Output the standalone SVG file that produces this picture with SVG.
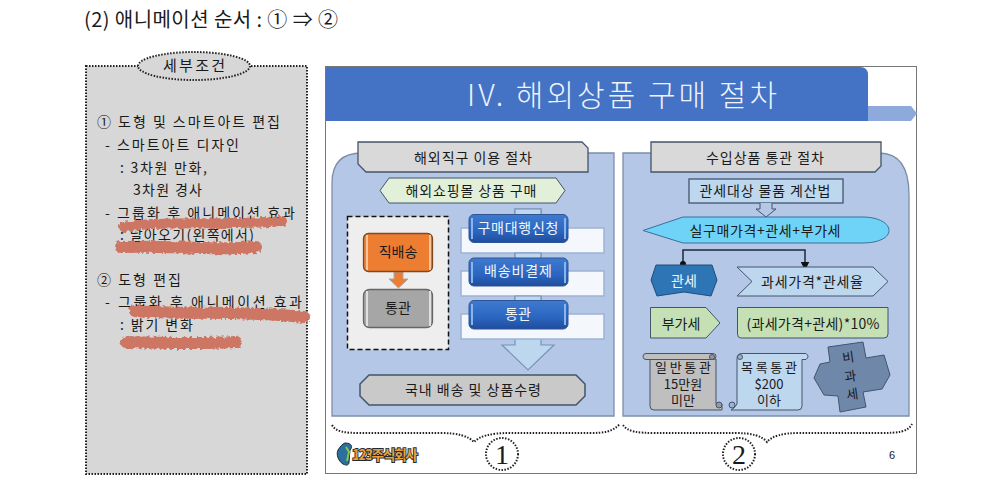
<svg xmlns="http://www.w3.org/2000/svg" width="1000" height="485" viewBox="0 0 1000 485">
<style>
text{font-family:"Noto Sans CJK KR","Noto Sans",sans-serif;fill:#1a1a1a}
.l{font-size:14px}
.c{text-anchor:middle;font-size:14px}
.s{text-anchor:middle;font-size:13px}
.w{fill:#f2f6fb}
.dot{fill:none;stroke:#222;stroke-width:2;stroke-dasharray:1.500 1.500}
.bar{fill:#f4f7fb;stroke:#9db3d6;stroke-width:1.500}
.btn{fill:url(#blue);stroke:#2f5597;stroke-width:1}
.hi{fill:#8db4ea}
.red{fill:none;stroke:#cd7664;stroke-linecap:round;filter:url(#rough)}
.st{stroke:#44546a;stroke-width:1.300}
</style>
<defs>
<filter id="rough" filterUnits="userSpaceOnUse" x="80" y="190" width="250" height="170"><feTurbulence type="fractalNoise" baseFrequency="0.3" numOctaves="2" seed="3" result="n"/><feDisplacementMap in="SourceGraphic" in2="n" scale="5"/></filter>
<linearGradient id="blue" x1="0" y1="0" x2="0" y2="1"><stop offset="0" stop-color="#3f7ad0"/><stop offset="0.6" stop-color="#2a66c0"/><stop offset="1" stop-color="#204c9c"/></linearGradient>
<marker id="ah" markerWidth="6" markerHeight="6" refX="3" refY="3" orient="auto"><path d="M0,0L6,3L0,6Z" fill="#111"/></marker>
<marker id="od" markerWidth="5" markerHeight="5" refX="2.500" refY="2.500"><circle cx="2.500" cy="2.500" r="2" fill="#111"/></marker>
</defs>
<rect width="1000" height="485" fill="#fff"/>
<text x="84" y="27" textLength="254" style="font-size:20px" id="title">(2) 애니메이션 순서 : ① ⇒ ②</text>

<g id="conditions">
<rect x="86" y="66" width="221" height="408" fill="#d7d7d7"/>
<rect x="86" y="66" width="221" height="408" class="dot"/>
<ellipse cx="194" cy="66" rx="56" ry="14" fill="#d7d7d7"/>
<ellipse cx="194" cy="66" rx="56" ry="14" class="dot"/>
<text x="194" y="71" text-anchor="middle" style="font-size:15px" textLength="62">세부조건</text>
<text class="l" x="97" y="127" textLength="183">① 도형 및 스마트아트 편집</text>
<text class="l" x="105" y="150" textLength="134">- 스마트아트 디자인</text>
<text class="l" x="120" y="173" textLength="87">: 3차원 만화,</text>
<text class="l" x="133" y="195" textLength="69">3차원 경사</text>
<text class="l" x="105" y="218" textLength="190">- 그룹화 후 애니메이션 효과</text>
<text class="l" x="120" y="240" textLength="134">: 날아오기(왼쪽에서)</text>
<text class="l" x="97" y="285" textLength="84">② 도형 편집</text>
<text class="l" x="105" y="307" textLength="197">- 그룹화 후 애니메이션 효과</text>
<text class="l" x="120" y="330" textLength="73">: 밝기 변화</text>
<path class="red" stroke-width="10" d="M124,227C160,220 230,226 282,221"/>
<path class="red" stroke-width="12" d="M121,247C170,245 210,251 256,247"/>
<path class="red" stroke-width="12" d="M135,311C180,315 240,310 304,317"/>
<path class="red" stroke-width="12" d="M126,342C160,343 200,344 236,342"/>
</g>

<g id="slide">
<rect x="325.500" y="66.500" width="591" height="407" fill="#fff" stroke="#777"/>
<path d="M868,106H911L917,113.500L911,121H868Z" fill="#8ea9db"/>
<path d="M326,67H860Q868,67 868,75V121H326Z" fill="#4472c4"/>
<text x="622" y="106" text-anchor="middle" style="font-size:30px;font-weight:300;fill:#eef3fb" textLength="310">IV. 해외상품 구매 절차</text>
</g>

<g id="panel-left">
<path d="M332,416V183Q332,153 362,153H614V416Z" fill="#b4c7e7" stroke="#7c8ea8" stroke-width="1.300"/>
<path d="M358,142H582L588,148V172H366L358,164Z" fill="#d9d9d9" stroke="#44546a" stroke-width="1.300"/>
<text class="c" x="473" y="163" textLength="118">해외직구 이용 절차</text>
</g>
<g id="shopping">
<path d="M389,178H556L565,190.500L556,203H389L380,190.500Z" fill="#e2f0d9" stroke="#44546a"/>
<text class="c" x="471" y="196" textLength="131">해외쇼핑몰 상품 구매</text>
</g>
<g id="direct-box">
<rect x="347.500" y="216.500" width="101" height="133" fill="#eeeeee" stroke="#111" stroke-width="1.500" stroke-dasharray="5 3"/>
<path d="M394,272H403V279H408L398.500,288L389,279H394Z" fill="#ed7d31" stroke="#aaa"/>
</g>
<g id="direct">
<rect x="363.500" y="233.500" width="69" height="38" rx="5" fill="#ed7d31" stroke="#7f4a1f" stroke-width="1.300"/>
<rect x="366" y="235" width="2" height="35" fill="#f8c49c"/><rect x="429" y="235" width="2" height="35" fill="#f8c49c"/>
<text class="c" x="398" y="257">직배송</text>
</g>
<g id="customs-gray">
<rect x="363.500" y="289.500" width="69" height="38" rx="6" fill="#a6a6a6" stroke="#666" stroke-width="1.300"/>
<rect x="366" y="291" width="2" height="35" fill="#e0e0e0"/><rect x="429" y="291" width="2" height="35" fill="#e0e0e0"/>
<text class="c" x="398" y="313">통관</text>
</g>
<g id="flow">
<path d="M515,209H541V345H554L528,370L502,345H515Z" fill="#bdd7ee" stroke="#7a92b8" stroke-width="1.200"/>
<rect class="bar" x="461" y="228" width="143" height="25"/>
<rect class="bar" x="461" y="271" width="143" height="25"/>
<rect class="bar" x="461" y="314" width="143" height="25"/>
<path d="M515,209H541V228H515ZM515,253H541V271H515ZM515,296H541V314H515Z" fill="#bdd7ee" stroke="#7a92b8" stroke-width="1.200"/>
</g>
<g id="step1"><rect class="btn" x="469" y="214.500" width="99" height="28" rx="5"/><rect class="hi" x="471" y="218" width="2" height="21"/><rect class="hi" x="564" y="218" width="2" height="21"/><text class="c w" x="518" y="233" textLength="81">구매대행신청</text></g>
<g id="step2"><rect class="btn" x="469" y="258" width="99" height="28" rx="5"/><rect class="hi" x="471" y="262" width="2" height="21"/><rect class="hi" x="564" y="262" width="2" height="21"/><text class="c w" x="518" y="276" textLength="68">배송비결제</text></g>
<g id="step3"><rect class="btn" x="469" y="300.500" width="99" height="28.500" rx="5"/><rect class="hi" x="471" y="304" width="2" height="21"/><rect class="hi" x="564" y="304" width="2" height="21"/><text class="c w" x="518" y="319">통관</text></g>
<g id="delivery">
<path d="M369,375H576L585,384V396L576,405H369L360,396V384Z" fill="#c9c9c9" stroke="#44546a" stroke-width="1.500"/>
<text class="c" x="473" y="395" textLength="136">국내 배송 및 상품수령</text>
</g>

<g id="panel-right">
<path d="M623,153H879Q909,153 909,195V416H623Z" fill="#b4c7e7" stroke="#7c8ea8" stroke-width="1.300"/>
<path d="M651,142H881V166L875,172H651Z" fill="#d9d9d9" stroke="#44546a" stroke-width="1.300"/>
<text class="c" x="765" y="163" textLength="118">수입상품 통관 절차</text>
</g>
<g id="calc">
<rect x="689" y="179" width="154" height="24" fill="#bdd7ee" class="st"/>
<text class="c" x="765" y="196" textLength="131">관세대상 물품 계산법</text>
<path d="M760,203V209H756L766,217L776,209H772V203" fill="#b4c7e7" stroke="#44546a"/>
</g>
<g id="total">
<path d="M643,230.500L683,217H862C880,217 889,224 889,230.500C889,237 880,243 862,243H683Z" fill="#6fd3f7" stroke="#3c6e99"/>
<text class="c" x="765" y="236" textLength="151">실구매가격+관세+부가세</text>
</g>
<g id="connectors">
<path d="M683,264V250H805V266" fill="none" stroke="#1b2a3a" stroke-width="1.500" marker-start="url(#od)" marker-end="url(#ah)"/>
</g>
<g id="tariff">
<path d="M656,265H712L717,280L711,296L684,292L657,296L651,280Z" fill="#2e75b6" stroke="#1f4e79"/>
<text class="c w" x="684" y="286">관세</text>
</g>
<g id="tariff-formula">
<path d="M737,267H873L888,281.500L873,296H737L752,281.500Z" fill="#bdd7ee" stroke="#44546a"/>
<text class="c" x="812" y="287" textLength="102">과세가격*관세율</text>
</g>
<g id="vat">
<path d="M650.500,307.500H706L720,323L706,338H650.500Z" fill="#c5e0b4" stroke="#44546a"/>
<text class="c" x="681" y="329">부가세</text>
</g>
<g id="vat-formula">
<path d="M737.500,307.500H888V334Q888,338 884,338H741Q737.500,338 737.500,334Z" fill="#c5e0b4" stroke="#44546a"/>
<text class="c" x="813" y="329" textLength="133">(과세가격+관세)*10%</text>
</g>
<g id="scroll-general">
<path d="M650,359H716V404H722V410H654Q650,410 650,406Z" fill="#bfbfbf" stroke="#44546a"/>
<rect x="643" y="353.500" width="73" height="6" rx="3" fill="#bfbfbf" stroke="#44546a"/>
<circle cx="712" cy="357" r="2.500" fill="#999" stroke="#44546a"/><circle cx="719" cy="405" r="3" fill="#999" stroke="#44546a"/>
<text class="s" x="683" y="372" textLength="56">일반통관</text>
<text class="s" x="683" y="389">15만원</text>
<text class="s" x="683" y="405">미만</text>
</g>
<g id="scroll-list">
<path d="M737,359Q737,353.500 742,353.500H806Q810,356.500 806,359.500H802V406Q802,410 798,410H731Q735,408 737,404Z" fill="#bdd7ee" stroke="#44546a"/>
<circle cx="740" cy="357" r="2.500" fill="#9db3d6" stroke="#44546a"/><circle cx="732" cy="405" r="3" fill="#9db3d6" stroke="#44546a"/>
<text class="s" x="769" y="372" textLength="56">목록통관</text>
<text class="s" x="769" y="389">$200</text>
<text class="s" x="769" y="405">이하</text>
</g>
<g id="exempt">
<path d="M828,347L863,342L866,358L884,355L890,375L882,389L863,392L866,407L840,412L838,396L824,395L814,378L820,364L830,362Z" fill="#6f88aa" stroke="#44546a"/>
<text class="s" x="849" y="362" transform="rotate(-8 849 362)">비</text>
<text class="s" x="851" y="381" transform="rotate(-8 851 381)">과</text>
<text class="s" x="853" y="399" transform="rotate(-8 853 399)">세</text>
</g>
<g id="braces">
<path class="dot" d="M332,425C336,432 345,433 360,433H440C458,433 468,436 474,442C480,436 490,433 510,433H590C604,433 612,432 620,424"/>
<circle class="dot" cx="502" cy="454" r="16"/>
<text x="502" y="464" text-anchor="middle" style="font-family:'Liberation Serif',serif;font-size:28px">1</text>
<path class="dot" d="M623,425C628,432 638,433 655,433H735C752,433 762,436 767,442C772,436 782,433 800,433H880C898,433 908,432 912,424"/>
<circle class="dot" cx="739" cy="454" r="16"/>
<text x="739" y="464" text-anchor="middle" style="font-family:'Liberation Serif',serif;font-size:28px">2</text>
</g>
<g id="logo">
<path d="M345,443C352,443 353,447 350,450L349,462C349,465 347,466 343,464C338,461 336,454 338,450C340,447 342,444 345,443Z" fill="#2a6f9e" stroke="#1a2a3a"/>
<path d="M346,447L349,452L347,461" fill="none" stroke="#8fc43c" stroke-width="2"/>
<text x="352" y="460" textLength="66" style="font-size:14px;font-weight:700;fill:#e8a13a;stroke:#1d2b3a;stroke-width:1.800;paint-order:stroke">123주식회사</text>
</g>
<text x="892" y="459" text-anchor="middle" style="font-family:'Liberation Sans',sans-serif;font-size:11px" id="page">6</text>
</svg>
